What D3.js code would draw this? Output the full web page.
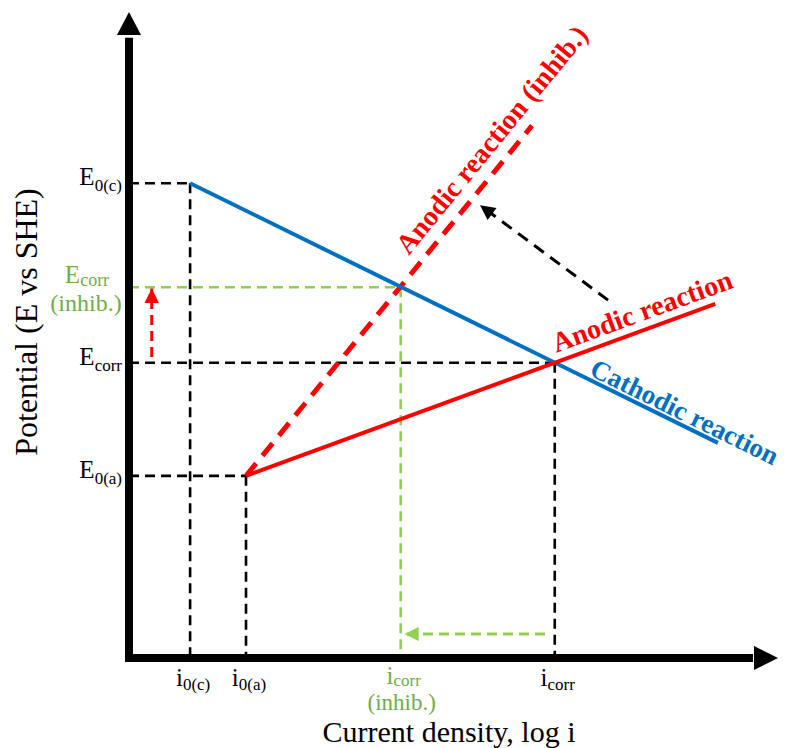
<!DOCTYPE html>
<html>
<head>
<meta charset="utf-8">
<script src="https://cdn.jsdelivr.net/npm/d3@7"></script>
<style>
  body { margin: 0; background: #fff; }
  svg { display: block; }
  text { font-family: "Liberation Serif", "Times New Roman", serif; }
</style>
</head>
<body>
<svg id="chart" width="787" height="748"></svg>
<script>
// ---- Evans diagram data (arbitrary units: log i on x, E on y) ----
const potentialLabels = [["E", "0(c)"], ["E", "corr"], ["E", "0(a)"]];
const potentialValues = [7.35, 4.57, 2.82];
const potentialInhib = 5.74;

const currentLabels = [["i", "0(c)"], ["i", "0(a)"], ["i", "corr"]];
const currentValues = [0.94, 1.8, 6.55];
const currentInhib = 4.18;

// Which current each potential level meets (E0(c)->i0(c), Ecorr->icorr, E0(a)->i0(a))
const levelCurrent = [0.94, 6.55, 1.8];

// Polarisation lines as [log i, E] points
const cathodicLine = [[0.94, 7.35], [9.06, 3.33]];
const anodicLine = [[1.8, 2.82], [9.02, 5.48]];
const anodicInhibLine = [[1.8, 2.82], [6.2, 8.24]];

// Shift arrows
const shiftArrow = [[7.37, 5.54], [5.4, 7.01]];
const potentialShift = [[0.35, 4.66], [0.35, 5.72]];
const currentShift = [[6.4, 0.37], [4.24, 0.37]];

const RED = "#ff0000", BLUE = "#0070c0", GREEN_LINE = "#92d050", GREEN_TEXT = "#70ad47";

const svg = d3.select("#chart");
const x = d3.scaleLinear().domain([0, 10]).range([129, 779]);
const y = d3.scaleLinear().domain([0, 10]).range([658, 12]);
const line = d3.line().x(d => x(d[0])).y(d => y(d[1]));

// Arrowhead markers
const defs = svg.append("defs");
function marker(id, color, w, h) {
  defs.append("marker")
    .attr("id", id)
    .attr("viewBox", "0 0 10 10")
    .attr("refX", 10).attr("refY", 5)
    .attr("markerWidth", w).attr("markerHeight", h)
    .attr("markerUnits", "userSpaceOnUse")
    .attr("orient", "auto")
    .append("path").attr("d", "M0,0L10,5L0,10Z").attr("fill", color);
}
marker("headBlack", "#000", 17, 15);
marker("headRed", RED, 15, 15);
marker("headGreen", GREEN_LINE, 15, 14);

// Guide lines from the axes to the characteristic points
const guides = svg.append("g").attr("fill", "none");
const dash = "10 6";
potentialValues.forEach((v, k) => {
  const c = levelCurrent[k];
  guides.append("path")
    .attr("d", line([[0, v], [c, v]]))
    .attr("stroke", "#000").attr("stroke-width", 2.6).attr("stroke-dasharray", dash);
  guides.append("path")
    .attr("d", line([[c, v], [c, 0]]))
    .attr("stroke", "#000").attr("stroke-width", 2.6).attr("stroke-dasharray", dash);
});
guides.append("path")
  .attr("d", line([[0, potentialInhib], [currentInhib, potentialInhib]]))
  .attr("stroke", GREEN_LINE).attr("stroke-width", 2.6).attr("stroke-dasharray", dash);
guides.append("path")
  .attr("d", line([[currentInhib, potentialInhib], [currentInhib, 0]]))
  .attr("stroke", GREEN_LINE).attr("stroke-width", 2.6).attr("stroke-dasharray", dash);

// Polarisation lines
svg.append("path").attr("d", line(anodicInhibLine)).attr("fill", "none")
  .attr("stroke", RED).attr("stroke-width", 5).attr("stroke-dasharray", "16 10");
svg.append("path").attr("d", line(cathodicLine)).attr("fill", "none")
  .attr("stroke", BLUE).attr("stroke-width", 4);
svg.append("path").attr("d", line(anodicLine)).attr("fill", "none")
  .attr("stroke", RED).attr("stroke-width", 4);

// Shift arrows
svg.append("path").attr("d", line(shiftArrow)).attr("fill", "none")
  .attr("stroke", "#000").attr("stroke-width", 3).attr("stroke-dasharray", "12 8")
  .attr("marker-end", "url(#headBlack)");
svg.append("path").attr("d", line(potentialShift)).attr("fill", "none")
  .attr("stroke", RED).attr("stroke-width", 3).attr("stroke-dasharray", "10 6")
  .attr("marker-end", "url(#headRed)");
svg.append("path").attr("d", line(currentShift)).attr("fill", "none")
  .attr("stroke", GREEN_LINE).attr("stroke-width", 3).attr("stroke-dasharray", "10 6")
  .attr("marker-end", "url(#headGreen)");

// Axes with arrowheads
const axes = svg.append("g");
axes.append("line").attr("x1", x(0)).attr("x2", x(0)).attr("y1", y(0) + 4).attr("y2", y(9.6))
  .attr("stroke", "#000").attr("stroke-width", 8);
axes.append("line").attr("x1", x(0) - 4).attr("x2", x(9.6)).attr("y1", y(0)).attr("y2", y(0))
  .attr("stroke", "#000").attr("stroke-width", 8);
axes.append("path")
  .attr("d", `M${x(0)},${y(10)}L${x(0) - 12},${y(10) + 23}L${x(0) + 12},${y(10) + 23}Z`)
  .attr("fill", "#000");
axes.append("path")
  .attr("d", `M${x(10) - 1},${y(0)}L${x(10) - 25},${y(0) - 12}L${x(10) - 25},${y(0) + 12}Z`)
  .attr("fill", "#000");

// Label helper: main letter with subscript
function subLabel(g, px, py, pair, opts) {
  const t = g.append("text").attr("x", px).attr("y", py)
    .attr("text-anchor", opts.anchor).attr("fill", opts.color || "#000");
  t.append("tspan").attr("font-size", opts.main).text(pair[0]);
  t.append("tspan").attr("font-size", opts.sub).attr("dy", opts.dy).text(pair[1]);
  return t;
}

const labels = svg.append("g");
potentialValues.forEach((v, k) => {
  subLabel(labels, 122, y(v) + 2, potentialLabels[k], { anchor: "end", main: 25, sub: 17, dy: 6 });
});
subLabel(labels, 87, y(potentialInhib) - 4, ["E", "corr"],
  { anchor: "middle", main: 25, sub: 18, dy: 3, color: GREEN_TEXT });
labels.append("text").attr("x", 86).attr("y", y(potentialInhib) + 24)
  .attr("text-anchor", "middle").attr("font-size", 24).attr("fill", GREEN_TEXT).text("(inhib.)");

currentValues.forEach((v, k) => {
  subLabel(labels, x(v) + 3, 686, currentLabels[k], { anchor: "middle", main: 25, sub: 17, dy: 4 });
});
subLabel(labels, x(currentInhib) + 3, 684, ["i", "corr"],
  { anchor: "middle", main: 25, sub: 17, dy: 2, color: GREEN_TEXT });
labels.append("text").attr("x", x(currentInhib) + 1).attr("y", 710)
  .attr("text-anchor", "middle").attr("font-size", 23).attr("fill", GREEN_TEXT).text("(inhib.)");

// Axis titles
labels.append("text").attr("x", 449).attr("y", 742).attr("text-anchor", "middle")
  .attr("font-size", 30).text("Current density, log i");
labels.append("text").attr("transform", `translate(37,322) rotate(-90)`)
  .attr("text-anchor", "middle").attr("font-size", 32).text("Potential (E vs SHE)");

// Labels written along the polarisation lines
function lineLabel(pts, at, offset, text, color, size) {
  const [a, b] = pts;
  const ax = x(a[0]), ay = y(a[1]), bx = x(b[0]), by = y(b[1]);
  const ang = Math.atan2(by - ay, bx - ax) * 180 / Math.PI;
  const t = (at - a[0]) / (b[0] - a[0]);
  const px = ax + t * (bx - ax), py = ay + t * (by - ay);
  labels.append("text")
    .attr("transform", `translate(${px},${py}) rotate(${ang})`)
    .attr("x", 0).attr("y", -offset)
    .attr("font-size", size).attr("font-weight", "bold").attr("fill", color)
    .text(text);
}
lineLabel(anodicLine, 6.62, 9, "Anodic reaction", RED, 28);
lineLabel(cathodicLine, 7.04, 4, "Cathodic reaction", BLUE, 27);
lineLabel(anodicInhibLine, 4.46, 13, "Anodic reaction (inhib.)", RED, 28);
</script>
</body>
</html>
